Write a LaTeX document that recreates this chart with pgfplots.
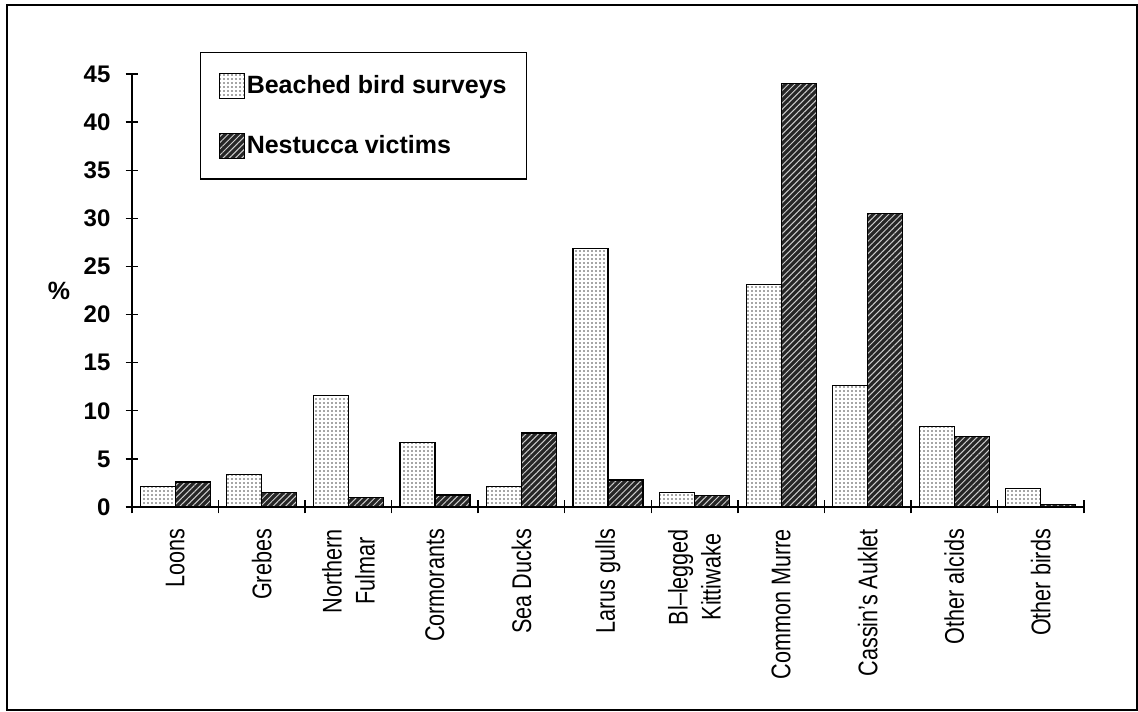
\documentclass[border=0pt]{standalone}
\usepackage{pgfplots}
\pgfplotsset{compat=1.18}
\usepackage{pgfplotstable}
\usetikzlibrary{patterns.meta}
\usepackage{fontspec}
\setmainfont{Liberation Sans}
\newfontfamily\catfont[FakeStretch=0.8]{Liberation Sans}

\pgfplotstableread{
x beached nestucca
0 2.15 2.6
1 3.4 1.5
2 11.6 1.0
3 6.7 1.25
4 2.15 7.7
5 26.9 2.8
6 1.5 1.2
7 23.1 44.0
8 12.6 30.5
9 8.4 7.3
10 1.9 0.25
}\birds

\begin{document}
\begin{tikzpicture}
\useasboundingbox (0,0) rectangle (569pt,355.5pt);
\draw[line width=0.8pt] (3.5pt,0.6pt) rectangle (568.4pt,353pt);
\begin{axis}[
  at={(66pt,102pt)}, anchor=south west,
  scale only axis, width=476pt, height=216.5pt,
  xmin=-0.5, xmax=10.5, ymin=0, ymax=45,
  axis x line*=bottom, axis y line*=left,
  axis line style={-, line width=0.8pt},
  ybar=0pt, bar width=17.5pt,
  ytick={0,5,...,45},
  xtick={-0.5,0.5,...,10.5},
  xticklabels={},
  extra x ticks={0,...,10},
  extra x tick labels={Loons,Grebes,{Northern\\Fulmar},Cormorants,Sea Ducks,Larus gulls,{Bl–legged\\Kittiwake},Common Murre,Cassin’s Auklet,Other alcids,Other birds},
  extra x tick style={major tick length=0pt,
    xticklabel style={rotate=90, anchor=east, align=center,
      font=\catfont\fontsize{13.5}{16.5}\selectfont, xshift=-7.5pt}},
  tick align=center,
  major tick length=6.5pt,
  tick style={black, line width=0.7pt},
  /pgf/number format/assume math mode=true,
  yticklabel style={font=\bfseries\fontsize{12}{14}\selectfont, xshift=-4pt},
  ylabel={\%},
  ylabel style={rotate=-90, font=\bfseries\fontsize{12.5}{14}\selectfont},
  legend style={at={(0.0714,1.0508)}, anchor=north west, draw=black,
    line width=0.6pt, inner xsep=9pt, inner ysep=10pt, row sep=17pt,
    font=\bfseries\fontsize{12.5}{14}\selectfont,
    nodes={inner sep=1pt}},
  legend cell align=left,
  legend image code/.code={\draw[#1, line width=0.6pt] (0pt,-6.25pt) rectangle (12.5pt,6.25pt);},
]
\addplot[draw=black, line width=0.6pt, fill=white,
  postaction={pattern={Dots[distance=2pt, radius=0.4pt]}, pattern color=black!70}]
  table[x=x, y=beached] {\birds};
\addplot[draw=black, line width=0.6pt, fill=black!85,
  postaction={pattern={Lines[angle=45, distance=2.2pt, line width=0.5pt]}, pattern color=white!80!black}]
  table[x=x, y=nestucca] {\birds};
\legend{Beached bird surveys, Nestucca victims}
\end{axis}
\end{tikzpicture}
\end{document}
